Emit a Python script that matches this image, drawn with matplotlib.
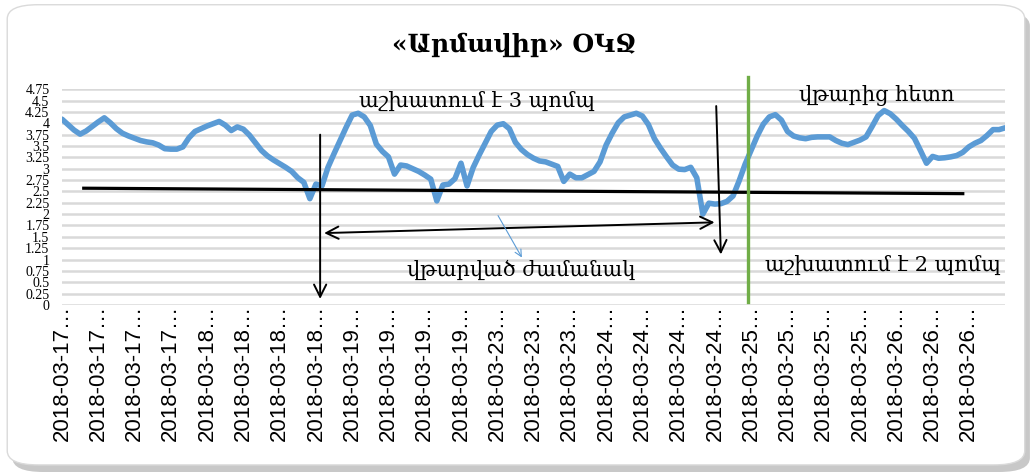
import matplotlib
matplotlib.use("Agg")
import matplotlib.pyplot as plt
from matplotlib.patches import FancyBboxPatch

# pressure readings, 6 readings between consecutive date labels
level = [4.09, 3.97, 3.85, 3.76, 3.83, 3.93, 4.03, 4.12, 4.01, 3.88,
         3.78, 3.72, 3.67, 3.62, 3.59, 3.57, 3.52, 3.44, 3.43, 3.43,
         3.48, 3.68, 3.82, 3.88, 3.94, 3.99, 4.04, 3.96, 3.84, 3.92,
         3.87, 3.74, 3.57, 3.40, 3.28, 3.19, 3.11, 3.03, 2.94, 2.80,
         2.70, 2.34, 2.66, 2.62, 3.03, 3.33, 3.62, 3.91, 4.18, 4.22,
         4.14, 3.95, 3.54, 3.38, 3.26, 2.88, 3.08, 3.06, 3.00, 2.94,
         2.86, 2.77, 2.29, 2.64, 2.66, 2.78, 3.12, 2.62, 3.02, 3.30,
         3.56, 3.82, 3.96, 3.99, 3.88, 3.58, 3.42, 3.31, 3.23, 3.17,
         3.15, 3.10, 3.05, 2.72, 2.88, 2.80, 2.80, 2.87, 2.94, 3.15,
         3.52, 3.78, 4.01, 4.14, 4.18, 4.22, 4.16, 3.97, 3.66, 3.45,
         3.26, 3.08, 2.99, 2.98, 3.03, 2.80, 2.00, 2.24, 2.22, 2.23,
         2.28, 2.40, 2.73, 3.10, 3.41, 3.72, 3.98, 4.14, 4.19, 4.07,
         3.82, 3.72, 3.68, 3.66, 3.69, 3.70, 3.70, 3.70, 3.62, 3.56,
         3.53, 3.58, 3.63, 3.70, 3.93, 4.17, 4.28, 4.21, 4.09, 3.95,
         3.82, 3.67, 3.40, 3.12, 3.27, 3.23, 3.24, 3.26, 3.29, 3.36,
         3.48, 3.56, 3.62, 3.73, 3.86, 3.86, 3.90]
label_days = ["17"] * 4 + ["18"] * 4 + ["19"] * 4 + ["23"] * 3 + \
             ["24"] * 4 + ["25"] * 4 + ["26"] * 3
label_step = 6
y_ticks = [0, 0.25, 0.5, 0.75, 1, 1.25, 1.5, 1.75, 2, 2.25, 2.5, 2.75,
           3, 3.25, 3.5, 3.75, 4, 4.25, 4.5, 4.75]

title = "«Արմավիր» ՕԿՋ"
txt_three = "աշխատում է 3 պոմպ"
txt_failure = "վթարված ժամանակ"
txt_after = "վթարից հետո"
txt_two = "աշխատում է 2 պոմպ"

arm = ["DejaVu Serif", "DejaVu Sans"]

fig = plt.figure(figsize=(10.33, 4.72), dpi=100)

# rounded frame with a soft shadow
fig.patches.append(FancyBboxPatch((0.012, 0.0), 0.985, 0.975,
                                  boxstyle="round,pad=0,rounding_size=0.03",
                                  transform=fig.transFigure, fc="#c8c8c8",
                                  ec="none", zorder=-10))
fig.patches.append(FancyBboxPatch((0.007, 0.015), 0.985, 0.975,
                                  boxstyle="round,pad=0,rounding_size=0.03",
                                  transform=fig.transFigure, fc="white",
                                  ec="#dadada", lw=1.0, zorder=-9))

ax = fig.add_axes([0.060, 0.354, 0.913, 0.457])
ax.set_facecolor("none")

x = list(range(len(level)))
ax.plot(x, level, color="#5B9BD5", lw=4.0, solid_joinstyle="round",
        solid_capstyle="round", zorder=3)

ax.set_xlim(0, len(level) - 1)
ax.set_ylim(0, 4.75)
ax.set_yticks(y_ticks)
ax.set_yticklabels(["{:g}".format(v) for v in y_ticks],
                   family="Liberation Serif", fontsize=10)
ax.set_xticks(range(0, label_step * len(label_days), label_step))
ax.set_xticklabels(["2018-03-{}…".format(d) for d in label_days],
                   rotation=90, family="Liberation Sans", fontsize=16)
ax.tick_params(axis="y", length=0, pad=9)
ax.tick_params(axis="x", length=0, pad=0)
ax.grid(axis="y", color="#d9d9d9", lw=1.8, zorder=0)
for s in ax.spines.values():
    s.set_visible(False)

fig.text(0.498, 0.905, title, family=arm, fontsize=18, fontweight="bold",
         ha="center", va="center")

# annotations drawn over the chart
ax.plot([3.6, 149.0], [2.57, 2.45], color="black", lw=2.3, zorder=4,
        clip_on=False)
ax.plot([113.5, 113.5], [5.01, 0.07], color="#70AD47", lw=2.4, zorder=4,
        clip_on=False)
arrow = dict(arrowstyle="->", color="black", lw=1.4, mutation_scale=22)
ax.annotate("", xy=(42.7, 0.07), xytext=(42.7, 3.81), arrowprops=arrow,
            annotation_clip=False)
ax.annotate("", xy=(109.0, 1.05), xytext=(108.2, 4.44), arrowprops=arrow,
            annotation_clip=False)
ax.annotate("", xy=(108.4, 1.82), xytext=(42.9, 1.58),
            arrowprops=dict(arrowstyle="<->", color="black", lw=1.4,
                            mutation_scale=22),
            annotation_clip=False)
ax.annotate("", xy=(76.3, 0.99), xytext=(71.9, 2.02),
            arrowprops=dict(arrowstyle="->", color="#5B9BD5", lw=0.8,
                            mutation_scale=12),
            annotation_clip=False)

ax.text(68.7, 4.5, txt_three, family=arm, fontsize=15, ha="center",
        va="center", zorder=5)
ax.text(76.0, 0.77, txt_failure, family=arm, fontsize=15, ha="center",
        va="center", zorder=5)
ax.text(134.8, 4.62, txt_after, family=arm, fontsize=15, ha="center",
        va="center", zorder=5)
ax.text(135.8, 0.88, txt_two, family=arm, fontsize=15, ha="center",
        va="center", zorder=5)

fig.savefig("out.png", dpi=100)
